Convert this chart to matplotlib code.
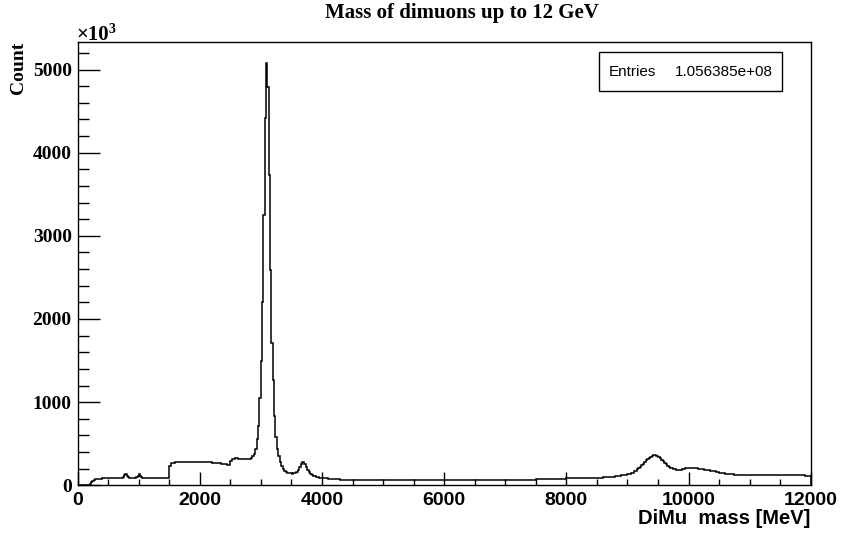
import matplotlib
matplotlib.use("Agg")
import matplotlib.pyplot as plt
from matplotlib.ticker import MultipleLocator

# dimuon mass histogram, counts in units of 10^3, variable bin lower edges [MeV]
low_edges = [0, 200, 220, 240, 260, 280, 300, 400, 500, 600, 700, 740, 760, 780, 800,
             820, 840, 960, 980, 1000, 1020, 1040, 1060, 1200, 1350]
low_counts = [0, 15, 40, 55, 65, 72, 78, 84, 87, 89, 92, 105, 120, 130, 115,
              98, 92, 95, 112, 130, 112, 96, 92, 91, 90]

mid_edges = [1500, 1520, 1600, 1800, 2000, 2200, 2350, 2450, 2500, 2530, 2570, 2620,
             2700, 2750, 2800, 2830, 2855, 2880, 2905]
mid_counts = [235, 272, 280, 281, 278, 270, 260, 250, 295, 320, 324, 318,
              312, 313, 318, 328, 348, 380, 440]

jpsi_edges = [2930, 2952, 2974, 2996, 3018, 3040, 3062, 3084, 3106, 3128, 3150, 3172,
              3194, 3216, 3238, 3260, 3282, 3304]
jpsi_counts = [552, 711, 1055, 1490, 2210, 3249, 4412, 5084, 4784, 3729, 2590, 1715,
               1271, 831, 580, 440, 350, 280]

psi_edges = [3330, 3355, 3380, 3405, 3430, 3455, 3480, 3505, 3530, 3555, 3580, 3605,
             3630, 3655, 3680, 3705, 3730, 3755, 3780, 3805, 3830, 3855, 3900, 3950,
             4000, 4100, 4200, 4300, 4400, 4600, 5000, 6000, 7000]
psi_counts = [230, 195, 172, 158, 150, 145, 142, 140, 142, 148, 160, 182,
              215, 255, 280, 262, 225, 185, 155, 133, 118, 106, 96, 90,
              84, 78, 73, 69, 65, 62, 60, 62, 66]

ups_edges = [7500, 8000, 8300, 8600, 8800, 8900, 9000, 9050, 9100,
             9150, 9175, 9200, 9225, 9250, 9275, 9300, 9325, 9350, 9375, 9400, 9425,
             9450, 9475, 9500, 9525, 9550, 9575, 9600, 9625, 9650, 9675,
             9700, 9750, 9800, 9850, 9900, 9950, 10000, 10050, 10100, 10150, 10200,
             10250, 10300, 10350, 10400, 10450, 10500, 10550, 10600, 10650, 10700,
             10750, 11200, 11600, 11900]
ups_counts = [74, 84, 92, 100, 108, 118, 135, 150, 170,
              195, 207, 222, 240, 260, 280, 300, 318, 334, 346, 355, 361,
              362, 355, 343, 326, 308, 289, 270, 252, 236, 220,
              207, 193, 186, 188, 197, 206, 211, 209, 203, 197, 191,
              187, 182, 177, 169, 159, 150, 142, 136, 132, 130,
              128, 124, 120, 110]

x_max = 12000
entries = "1.056385e+08"

edges = low_edges + mid_edges + jpsi_edges + psi_edges + ups_edges + [x_max]
counts = low_counts + mid_counts + jpsi_counts + psi_counts + ups_counts

W, H = 842, 533
fig = plt.figure(figsize=(W / 100, H / 100), dpi=100)
ax = fig.add_axes([77.7 / W, 1 - 485.3 / H, 733 / W, 443.5 / H])

ax.stairs(counts, edges, color="black", lw=1.1)
ax.set_xlim(0, x_max)
ax.set_ylim(0, max(counts) * 1.049)

ax.xaxis.set_major_locator(MultipleLocator(2000))
ax.xaxis.set_minor_locator(MultipleLocator(500))
ax.yaxis.set_major_locator(MultipleLocator(1000))
ax.yaxis.set_minor_locator(MultipleLocator(200))
ax.tick_params(axis="both", which="both", direction="in", top=False, right=False,
               width=1.0, color="black")
ax.tick_params(axis="x", which="major", length=9.2, pad=5)
ax.tick_params(axis="x", which="minor", length=4.6)
ax.tick_params(axis="y", which="major", length=15.8, pad=4.3)
ax.tick_params(axis="y", which="minor", length=7.7)
for lab in ax.get_xticklabels():
    lab.set_fontfamily("Liberation Sans")
    lab.set_fontweight("bold")
    lab.set_fontsize(14)
for lab in ax.get_yticklabels():
    lab.set_fontfamily("Liberation Serif")
    lab.set_fontweight("bold")
    lab.set_fontsize(14)
for s in ax.spines.values():
    s.set_linewidth(1.0)

# title, axis titles, exponent
fig.text(462 / W, 1 - 13 / H, "Mass of dimuons up to 12 GeV", ha="center", va="center",
         family="Liberation Serif", weight="bold", fontsize=15)
fig.text(810.7 / W, 1 - 519 / H, "DiMu  mass [MeV]", ha="right", va="center",
         family="Liberation Sans", weight="bold", fontsize=14.5)
fig.text(18 / W, 1 - 42 / H, "Count", rotation=90, ha="center", va="top",
         family="Liberation Serif", weight="bold", fontsize=14)
fig.text(76.7 / W, 1 - 39.5 / H, "\u00d710", ha="left", va="baseline",
         family="Liberation Serif", weight="bold", fontsize=15)
fig.text(108 / W, 1 - 32.5 / H, "3", ha="left", va="baseline",
         family="Liberation Serif", weight="bold", fontsize=10)

# stats box
box = plt.Rectangle((599.3 / W, 1 - 90.7 / H), 183 / W, 39 / H, transform=fig.transFigure,
                    facecolor="white", edgecolor="black", lw=1.0, zorder=5)
fig.patches.append(box)
fig.text(609 / W, 1 - 71.7 / H, "Entries", ha="left", va="center",
         family="Liberation Sans", fontsize=11, zorder=6)
fig.text(773 / W, 1 - 71.7 / H, entries, ha="right", va="center",
         family="Liberation Sans", fontsize=11, zorder=6)

fig.savefig("out.png", dpi=100)
